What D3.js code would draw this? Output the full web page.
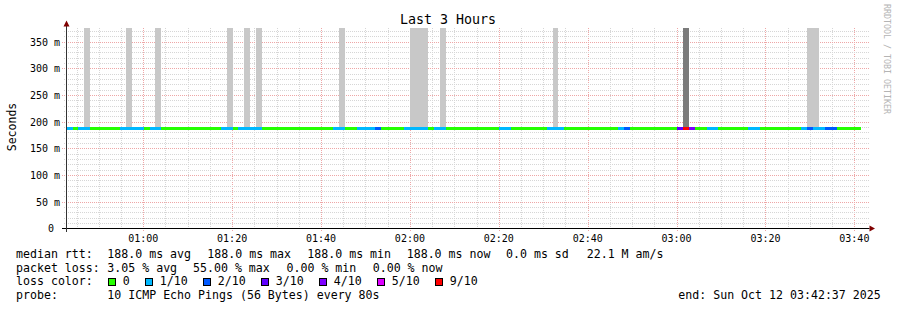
<!DOCTYPE html>
<html><head><meta charset="utf-8">
<script src="https://cdn.jsdelivr.net/npm/d3@7"></script>
<style>
html,body{margin:0;padding:0;background:#fff}
svg{display:block}
text{font-family:"DejaVu Sans Mono",monospace;white-space:pre;fill:#000}
</style>
</head><body>
<svg id="c" width="897" height="310"></svg>
<script>
// ---------------- data ----------------
const chartTitle = "Last 3 Hours";
const yAxisLabel = "Seconds";
const watermark = "RRDTOOL / TOBI OETIKER";
const timeStart = "2025-10-12 00:42:37";
const timeEnd = "2025-10-12 03:42:37";
const firstStepStart = "2025-10-12 00:42:45";
const stepSeconds = 80;
const yMaxMs = 375;

// median rtt per 80 s step (ms)
const medianMs = [
 188,188,188,188,188,188,188,188,188,188,
 188,188,188,188,188,188,188,188,188,188,
 188,188,188,188,188,188,188,188,188,188,
 188,188,188,188,188,188,188,188,188,188,
 188,188,188,188,188,188,188,188,188,188,
 188,188,188,188,188,188,188,188,188,188,
 188,188,188,188,188,188,188,188,188,188,
 188,188,188,188,188,188,188,188,188,188,
 188,188,188,188,188,188,188,188,188,188,
 188,188,188,188,188,188,188,188,188,188,
 188,188,188,188,188,188,188,188,188,188,
 188,188,188,188,188,188,188,188,188,188,
 188,188,188,188,188,188,188,188,188,188,
 188,188,188,188
];
// packet loss per step (%)
const lossPct = [
 10,0,10,10,0,0,0,0,0,10,
 10,10,10,0,10,10,0,0,0,0,
 0,0,0,0,0,0,10,10,0,10,
 10,10,10,0,0,0,0,0,0,0,
 0,0,0,0,0,10,10,0,0,10,
 10,10,20,0,0,0,0,10,10,10,
 10,0,10,10,0,0,0,0,0,0,
 0,0,0,10,10,0,0,0,0,0,
 0,10,10,10,0,0,0,0,0,0,
 0,0,0,10,20,0,0,0,0,0,
 0,0,0,30,55,40,0,0,10,10,
 0,0,0,0,0,10,10,0,0,0,
 0,0,0,0,10,20,10,10,20,20,
 0,0,0,0
];
// highest ping of the step (ms), 0 = no smoke; off-scale values are clipped
const smokeTopMs = [
 0,0,0,400,0,0,0,0,0,0,
 400,0,0,0,0,400,0,0,0,0,
 0,0,0,0,0,0,0,400,0,0,
 400,0,400,0,0,0,0,0,0,0,
 0,0,0,0,0,0,400,0,0,0,
 0,0,0,0,0,0,0,0,400,400,
 400,0,0,400,0,0,0,0,0,0,
 0,0,0,0,0,0,0,0,0,0,
 0,0,400,0,0,0,0,0,0,0,
 0,0,0,0,0,0,0,0,0,0,
 0,0,0,0,400,0,0,0,0,0,
 0,0,0,0,0,0,0,0,0,0,
 0,0,0,0,0,400,400,0,0,0,
 0,0,0,0
];
// number of pings in the smoke (shade)
const smokePings = [
 0,0,0,1,0,0,0,0,0,0,
 1,0,0,0,0,1,0,0,0,0,
 0,0,0,0,0,0,0,1,0,0,
 1,0,1,0,0,0,0,0,0,0,
 0,0,0,0,0,0,1,0,0,0,
 0,0,0,0,0,0,0,0,1,1,
 1,0,0,1,0,0,0,0,0,0,
 0,0,0,0,0,0,0,0,0,0,
 0,0,1,0,0,0,0,0,0,0,
 0,0,0,0,0,0,0,0,0,0,
 0,0,0,0,4,0,0,0,0,0,
 0,0,0,0,0,0,0,0,0,0,
 0,0,0,0,0,1,1,0,0,0,
 0,0,0,0
];

const yTickValues = [0,50,100,150,200,250,300,350];
const yTickLabels = ["0 ","50 m","100 m","150 m","200 m","250 m","300 m","350 m"];
const xTickLabels = ["01:00","01:20","01:40","02:00","02:20","02:40","03:00","03:20","03:40"];

const lossColors = ["#26ff00","#00b8ff","#0059ff","#5e00ff","#7e00ff","#dd00ff","#ff0000"];
const lossLabels = ["0","1/10","2/10","3/10","4/10","5/10","9/10"];
const lossThresholds = [1,11,21,31,41,51];

const statsRtt = ["median rtt:","188.0 ms avg","188.0 ms max","188.0 ms min","188.0 ms now","0.0 ms sd","22.1 M am/s"];
const statsLoss = ["packet loss:","3.05 % avg","55.00 % max","0.00 % min","0.00 % now"];
const lossColorTitle = "loss color:";
const probeRow = ["probe:","10 ICMP Echo Pings (56 Bytes) every 80s"];
const endText = "end: Sun Oct 12 03:42:37 2025";

// ---------------- drawing ----------------
const parse = d3.timeParse("%Y-%m-%d %H:%M:%S");
const t0 = parse(timeStart), t1 = parse(timeEnd), s0 = parse(firstStepStart);
const svg = d3.select("#c");
svg.append("rect").attr("width",897).attr("height",310).attr("fill","#fff");

const x = d3.scaleTime().domain([t0,t1]).range([66,866]);
const y = d3.scaleLinear().domain([0,yMaxMs]).range([228.5,28.5]);
const px = v => Math.round(v - 0.001) + 0.5;

const steps = medianMs.map((m,i)=>({
  start: new Date(s0.getTime() + i*stepSeconds*1000),
  end: new Date(s0.getTime() + (i+1)*stepSeconds*1000),
  median: m, loss: lossPct[i], top: smokeTopMs[i], pings: smokePings[i]
}));

const minorCol = "#d6d6d6", majorCol = "#eea6a6";
// grid
const g = svg.append("g");
const minorX = d3.timeMinute.every(5).range(t0, t1);
minorX.forEach(t=>{
  const major = t.getMinutes() % 20 === 0;
  g.append("line").attr("x1",px(x(t))).attr("x2",px(x(t)))
   .attr("y1",28).attr("y2",major?231:230)
   .attr("stroke", major ? majorCol : minorCol)
   .attr("stroke-dasharray","1,1");
});
d3.range(10, yMaxMs+1, 10).forEach(v=>{
  const major = v % 50 === 0;
  g.append("line").attr("x1",major?62:64).attr("x2",869)
   .attr("y1",px(y(v))).attr("y2",px(y(v)))
   .attr("stroke", major ? majorCol : minorCol)
   .attr("stroke-dasharray","1,1");
});

// smoke
const shade = d3.scaleLinear().domain([1,4]).range(["#c8c8c8","#7b7b7b"]);
svg.append("g").selectAll("rect").data(steps.filter(d=>d.top>0)).join("rect")
  .attr("x",d=>Math.round(x(d.start)))
  .attr("width",d=>Math.round(x(d.end))-Math.round(x(d.start)))
  .attr("y",d=>Math.round(y(Math.min(d.top,yMaxMs))-0.5))
  .attr("height",d=>Math.round(y(d.median)) - Math.round(y(Math.min(d.top,yMaxMs))-0.5))
  .attr("fill",d=>shade(d.pings));

// median line coloured by loss
const lossColor = d3.scaleThreshold().domain(lossThresholds).range(lossColors);
svg.append("g").selectAll("rect").data(steps).join("rect")
  .attr("x",d=>Math.max(67,Math.round(x(d.start))))
  .attr("width",d=>Math.round(x(d.end))-Math.max(67,Math.round(x(d.start))))
  .attr("y",d=>Math.round(y(d.median))-1)
  .attr("height",3)
  .attr("fill",d=>lossColor(d.loss));

// axes
svg.append("line").attr("x1",62).attr("x2",869.5).attr("y1",228.5).attr("y2",228.5).attr("stroke","#000");
svg.append("line").attr("x1",66.5).attr("x2",66.5).attr("y1",24).attr("y2",232).attr("stroke","#333");
svg.append("path").attr("d","M63.5,26.5L66.5,20.5L69.5,26.5Z").attr("fill","#800000");
svg.append("path").attr("d","M869.5,225.5L875,228.5L869.5,231.5Z").attr("fill","#800000");

// tick labels
svg.append("g").selectAll("text").data(yTickValues).join("text")
  .attr("x",60).attr("y",v=>px(y(v))+3.5).attr("text-anchor","end")
  .attr("font-size","10px").text((v,i)=>yTickLabels[i]);
const tp = d3.timeParse("%Y-%m-%d %H:%M");
svg.append("g").selectAll("text").data(xTickLabels).join("text")
  .attr("x",l=>x(tp("2025-10-12 "+l))).attr("y",242).attr("text-anchor","middle")
  .attr("font-size","10px").text(l=>l);

// title / labels
svg.append("text").attr("x",448).attr("y",24).attr("text-anchor","middle")
  .attr("font-size","13.3px").text(chartTitle);
svg.append("text").attr("transform","translate(15.5,127) rotate(-90)")
  .attr("text-anchor","middle").attr("font-size","11.5px").text(yAxisLabel);
svg.append("text").attr("transform","translate(883.5,4) rotate(90)")
  .attr("font-size","8.3px").style("fill","#b4b4b4").text(watermark);

// legend
const fs = "11.6px";
const rowY = [257.8, 271.6, 285.4, 299.2];
const rttX = [16,107.3,207.3,307.3,406.7,506,586.7];
statsRtt.forEach((s,i)=>svg.append("text").attr("x",rttX[i]).attr("y",rowY[0]).attr("font-size",fs).text(s));
const lossX = [16,107.3,193,286.5,372.7];
statsLoss.forEach((s,i)=>svg.append("text").attr("x",lossX[i]).attr("y",rowY[1]).attr("font-size",fs).text(s));
svg.append("text").attr("x",16).attr("y",rowY[2]).attr("font-size",fs).text(lossColorTitle);
let sx = 108.3;
lossLabels.forEach((l,i)=>{
  svg.append("rect").attr("x",Math.round(sx)+0.5).attr("y",278.5).attr("width",7).attr("height",7)
    .attr("fill",lossColors[i]).attr("stroke","#000").attr("stroke-width",1);
  svg.append("text").attr("x",sx+14.5).attr("y",rowY[2]).attr("font-size",fs).text(l);
  sx = sx + 14 + l.length*7 + 16;
});
svg.append("text").attr("x",16).attr("y",rowY[3]).attr("font-size",fs).text(probeRow[0]);
svg.append("text").attr("x",107.3).attr("y",rowY[3]).attr("font-size",fs).text(probeRow[1]);
svg.append("text").attr("x",678.3).attr("y",rowY[3]).attr("font-size",fs).text(endText);
</script>
</body></html>
